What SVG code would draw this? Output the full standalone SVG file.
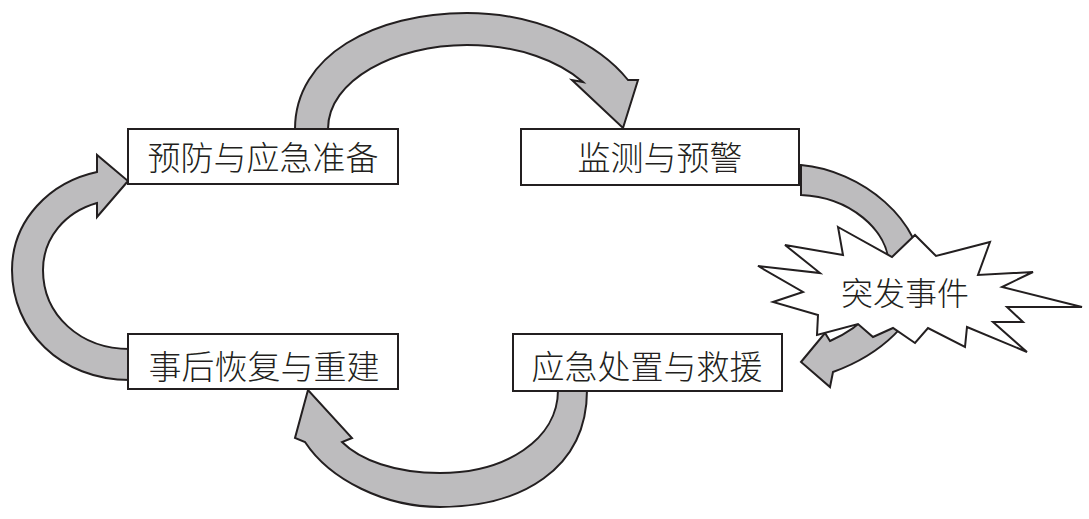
<svg xmlns="http://www.w3.org/2000/svg" width="1089" height="519" viewBox="0 0 1089 519">
<style>
.arrow{fill:#bdbcbe;stroke:#231f20;stroke-width:2;stroke-linejoin:miter}
.box{fill:#ffffff;stroke:#231f20;stroke-width:2}
.star{fill:#ffffff;stroke:#231f20;stroke-width:2;stroke-linejoin:miter}
.lbl{font-family:"Noto Sans CJK SC","Liberation Serif",serif;font-size:33px;font-weight:300;fill:#231f20;text-anchor:middle}
</style>
<rect width="1089" height="519" fill="#ffffff"/>
<g id="connectors">
<path class="arrow" d="M295,129 C295,55 375,13 467,13 C540,13 600,45 628,80 L638,80 L623,128 L572,80 L583,82 C560,62 520,45 467,45 C395,45 328,80 328,129 Z"/>
<path class="arrow" d="M801,165 C860,170 925,220 922,280 C920,320 880,355 833,372 L830,387 L801,362 L825,333 L830,341 C862,327 890,300 889,265 C888,230 850,197 801,195 Z"/>
<path class="arrow" d="M558,390 C558,440 505,473 440,473 C395,473 360,460 342,442 L352,438 L308,390 L295,438 L305,442 C330,480 385,507 440,507 C520,507 587,470 587,390 Z"/>
<path class="arrow" d="M130,349 C80,349 43,315 43,270 C43,238 65,212 97,203 L97,217 L128,181 L97,155 L97,172 C50,182 12,220 12,270 C12,330 60,380 130,380 Z"/>
</g>
<g id="node-prevention">
<rect class="box" x="128" y="129" width="270" height="55"/>
<text class="lbl" x="263" y="170">预防与应急准备</text>
</g>
<g id="node-monitoring">
<rect class="box" x="521" y="129" width="278" height="56"/>
<text class="lbl" x="660" y="170">监测与预警</text>
</g>
<g id="node-recovery">
<rect class="box" x="128" y="334" width="270" height="55"/>
<text class="lbl" x="264" y="379">事后恢复与重建</text>
</g>
<g id="node-response">
<rect class="box" x="513" y="334" width="269" height="57"/>
<text class="lbl" x="647" y="379">应急处置与救援</text>
</g>
<g id="node-event">
<polygon class="star" points="838,227 892,257 915,235 936,256 990,242 978,275 1033,272 1002,287 1082,307 1007,307 1023,322 993,322 1027,352 967,327 965,347 928,328 915,343 893,328 873,337 858,324 817,335 818,315 773,302 803,292 758,266 820,273 785,245 843,255"/>
<text class="lbl" x="905" y="305" style="font-size:32px">突发事件</text>
</g>
</svg>
